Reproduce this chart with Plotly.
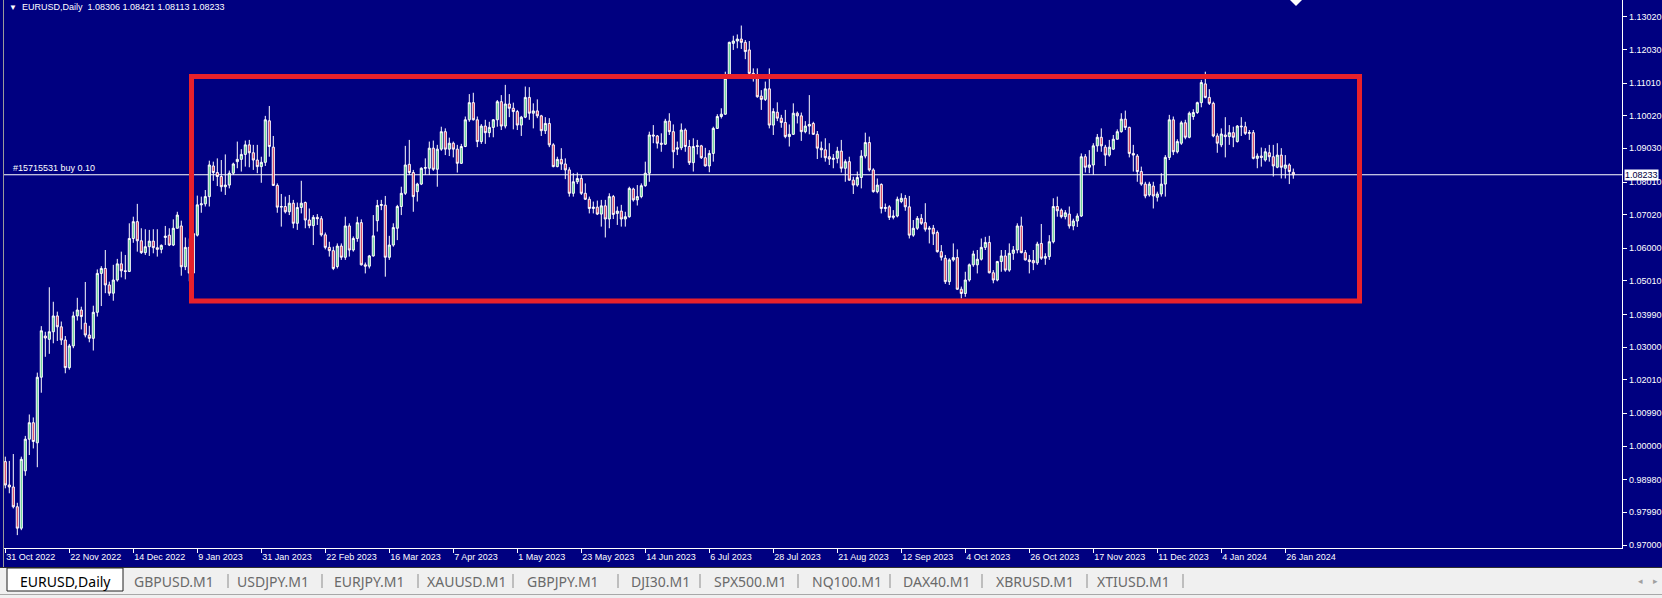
import pandas as pd
import plotly.graph_objects as go

# ---------------- data ----------------
holidays = ["2022-12-26", "2023-01-02", "2023-12-25", "2024-01-01"]
dates = [d.strftime("%Y-%m-%d") for d in pd.bdate_range("2022-10-31", "2024-01-30")
         if d.strftime("%Y-%m-%d") not in holidays]

opens = [
    0.9953, 0.9882, 0.9876, 0.9816, 0.9751, 0.9925, 1.0021, 1.0071, 1.0010, 1.0209,
    1.0334, 1.0324, 1.0347, 1.0395, 1.0362, 1.0322, 1.0238, 1.0304, 1.0395, 1.0413,
    1.0373, 1.0337, 1.0327, 1.0406, 1.0524, 1.0539, 1.0489, 1.0464, 1.0504, 1.0553,
    1.0532, 1.0530, 1.0630, 1.0681, 1.0623, 1.0587, 1.0605, 1.0622, 1.0602, 1.0597,
    1.0633, 1.0640, 1.0610, 1.0661, 1.0668, 1.0544, 1.0603, 1.0525, 1.0640, 1.0732,
    1.0735, 1.0757, 1.0850, 1.0830, 1.0818, 1.0787, 1.0792, 1.0828, 1.0863, 1.0870,
    1.0885, 1.0914, 1.0890, 1.0868, 1.0848, 1.0861, 1.0987, 1.0907, 1.0791, 1.0725,
    1.0727, 1.0711, 1.0737, 1.0676, 1.0724, 1.0739, 1.0686, 1.0669, 1.0694, 1.0690,
    1.0641, 1.0603, 1.0593, 1.0545, 1.0607, 1.0573, 1.0668, 1.0595, 1.0630, 1.0678,
    1.0550, 1.0546, 1.0577, 1.0684, 1.0730, 1.0731, 1.0573, 1.0610, 1.0661, 1.0727,
    1.0767, 1.0855, 1.0830, 1.0772, 1.0795, 1.0843, 1.0843, 1.0904, 1.0840, 1.0901,
    1.0954, 1.0901, 1.0919, 1.0901, 1.0858, 1.0909, 1.0990, 1.1042, 1.0990, 1.0924,
    1.0971, 1.0951, 1.0967, 1.0990, 1.1045, 1.0971, 1.1038, 1.1025, 1.1015, 1.0974,
    1.0998, 1.1058, 1.1010, 1.1017, 1.1002, 1.0957, 1.0979, 1.0914, 1.0848, 1.0870,
    1.0856, 1.0838, 1.0767, 1.0802, 1.0812, 1.0767, 1.0749, 1.0721, 1.0725, 1.0704,
    1.0729, 1.0689, 1.0757, 1.0706, 1.0713, 1.0689, 1.0696, 1.0780, 1.0747, 1.0757,
    1.0790, 1.0828, 1.0944, 1.0941, 1.0919, 1.0916, 1.0986, 1.0954, 1.0901, 1.0905,
    1.0959, 1.0909, 1.0860, 1.0909, 1.0911, 1.0875, 1.0850, 1.0888, 1.0964, 1.1000,
    1.1007, 1.1116, 1.1222, 1.1229, 1.1235, 1.1225, 1.1202, 1.1131, 1.1121, 1.1062,
    1.1052, 1.1084, 1.0974, 1.1013, 1.0995, 1.0982, 1.0939, 1.0946, 1.1010, 1.1002,
    1.0954, 1.0971, 1.0979, 1.0946, 1.0904, 1.0899, 1.0878, 1.0870, 1.0873, 1.0895,
    1.0843, 1.0863, 1.0807, 1.0792, 1.0815, 1.0880, 1.0921, 1.0838, 1.0772, 1.0794,
    1.0721, 1.0726, 1.0694, 1.0698, 1.0742, 1.0752, 1.0726, 1.0640, 1.0661, 1.0691,
    1.0678, 1.0658, 1.0661, 1.0648, 1.0590, 1.0570, 1.0499, 1.0565, 1.0572, 1.0476,
    1.0463, 1.0504, 1.0550, 1.0550, 1.0567, 1.0603, 1.0618, 1.0526, 1.0504, 1.0560,
    1.0577, 1.0534, 1.0585, 1.0595, 1.0668, 1.0587, 1.0565, 1.0563, 1.0556, 1.0615,
    1.0570, 1.0575, 1.0620, 1.0727, 1.0716, 1.0696, 1.0704, 1.0668, 1.0683, 1.0698,
    1.0878, 1.0846, 1.0853, 1.0911, 1.0937, 1.0907, 1.0883, 1.0901, 1.0931, 1.0954,
    1.0992, 1.0967, 1.0888, 1.0880, 1.0833, 1.0795, 1.0762, 1.0789, 1.0755, 1.0765,
    1.0795, 1.0876, 1.0990, 1.0893, 1.0919, 1.0981, 1.0937, 1.1000, 1.1012, 1.1042,
    1.1099, 1.1058, 1.1040, 1.0941, 1.0914, 1.0944, 1.0939, 1.0951, 1.0924, 1.0971,
    1.0969, 1.0949, 1.0951, 1.0873, 1.0880, 1.0868, 1.0890, 1.0878, 1.0846, 1.0883,
    1.0843, 1.0853, 1.08306,
]
highs = [
    0.9968, 0.9955, 0.9976, 0.9828, 0.9968, 1.0031, 1.0096, 1.0087, 1.0223, 1.0364,
    1.0347, 1.0482, 1.0438, 1.0408, 1.0378, 1.0334, 1.0310, 1.0408, 1.0450, 1.0423,
    1.0498, 1.0365, 1.0426, 1.0536, 1.0546, 1.0595, 1.0499, 1.0550, 1.0568, 1.0590,
    1.0580, 1.0676, 1.0696, 1.0735, 1.0661, 1.0658, 1.0656, 1.0658, 1.0658, 1.0612,
    1.0668, 1.0661, 1.0688, 1.0711, 1.0684, 1.0633, 1.0630, 1.0650, 1.0760, 1.0757,
    1.0777, 1.0866, 1.0863, 1.0873, 1.0868, 1.0885, 1.0836, 1.0860, 1.0924, 1.0901,
    1.0927, 1.0929, 1.0914, 1.0914, 1.0878, 1.1002, 1.1032, 1.0941, 1.0797, 1.0765,
    1.0757, 1.0762, 1.0747, 1.0739, 1.0805, 1.0742, 1.0721, 1.0701, 1.0704, 1.0698,
    1.0648, 1.0620, 1.0605, 1.0615, 1.0615, 1.0696, 1.0676, 1.0636, 1.0696, 1.0688,
    1.0557, 1.0580, 1.0701, 1.0747, 1.0747, 1.0759, 1.0638, 1.0676, 1.0732, 1.0787,
    1.0911, 1.0929, 1.0838, 1.0799, 1.0846, 1.0873, 1.0924, 1.0927, 1.0914, 1.0969,
    1.0964, 1.0936, 1.0924, 1.0914, 1.0917, 1.1000, 1.1068, 1.1072, 1.1000, 1.0977,
    1.0990, 1.0984, 1.0992, 1.1050, 1.1065, 1.1096, 1.1068, 1.1042, 1.1020, 1.1002,
    1.1091, 1.1089, 1.1040, 1.1052, 1.1005, 1.0998, 1.0995, 1.0919, 1.0878, 1.0904,
    1.0873, 1.0846, 1.0828, 1.0830, 1.0823, 1.0797, 1.0757, 1.0742, 1.0745, 1.0747,
    1.0747, 1.0767, 1.0762, 1.0727, 1.0732, 1.0711, 1.0787, 1.0784, 1.0792, 1.0797,
    1.0863, 1.0954, 1.0974, 1.0944, 1.0949, 1.0993, 1.1010, 1.0976, 1.0924, 1.0979,
    1.0964, 1.0929, 1.0934, 1.0929, 1.0914, 1.0905, 1.0898, 1.0969, 1.1007, 1.1025,
    1.1136, 1.1227, 1.1245, 1.1249, 1.1276, 1.1232, 1.1229, 1.1146, 1.1146, 1.1080,
    1.1106, 1.1146, 1.1025, 1.1043, 1.1005, 1.1020, 1.0976, 1.1040, 1.1015, 1.1012,
    1.0986, 1.1065, 1.0984, 1.0956, 1.0924, 1.0934, 1.0919, 1.0886, 1.0908, 1.0929,
    1.0870, 1.0878, 1.0817, 1.0833, 1.0898, 1.0951, 1.0939, 1.0843, 1.0812, 1.0797,
    1.0736, 1.0731, 1.0716, 1.0757, 1.0767, 1.0762, 1.0759, 1.0686, 1.0698, 1.0704,
    1.0737, 1.0668, 1.0671, 1.0654, 1.0610, 1.0580, 1.0570, 1.0615, 1.0597, 1.0484,
    1.0529, 1.0554, 1.0593, 1.0595, 1.0630, 1.0635, 1.0638, 1.0534, 1.0562, 1.0595,
    1.0595, 1.0615, 1.0607, 1.0676, 1.0696, 1.0595, 1.0580, 1.0595, 1.0620, 1.0674,
    1.0585, 1.0640, 1.0752, 1.0757, 1.0721, 1.0716, 1.0727, 1.0690, 1.0706, 1.0888,
    1.0886, 1.0898, 1.0919, 1.0947, 1.0964, 1.0914, 1.0929, 1.0944, 1.0961, 1.1010,
    1.1018, 1.0969, 1.0914, 1.0886, 1.0848, 1.0802, 1.0802, 1.0802, 1.0772, 1.0828,
    1.0883, 1.1005, 1.1000, 1.0931, 1.0987, 1.0990, 1.1015, 1.1022, 1.1045, 1.1111,
    1.1136, 1.1083, 1.1045, 1.0949, 1.0964, 1.0998, 1.0974, 1.0969, 1.0974, 1.0998,
    1.0984, 1.0959, 1.0959, 1.0888, 1.0906, 1.0904, 1.0914, 1.0914, 1.0919, 1.0904,
    1.0883, 1.0858, 1.08421,
]
lows = [
    0.9872, 0.9857, 0.9811, 0.9730, 0.9745, 0.9910, 0.9973, 0.9993, 0.9936, 1.0162,
    1.0271, 1.0280, 1.0312, 1.0319, 1.0307, 1.0221, 1.0232, 1.0297, 1.0381, 1.0354,
    1.0330, 1.0315, 1.0290, 1.0393, 1.0425, 1.0464, 1.0456, 1.0441, 1.0499, 1.0512,
    1.0506, 1.0528, 1.0617, 1.0590, 1.0583, 1.0580, 1.0577, 1.0585, 1.0575, 1.0585,
    1.0610, 1.0607, 1.0607, 1.0661, 1.0517, 1.0534, 1.0500, 1.0515, 1.0636, 1.0708,
    1.0727, 1.0727, 1.0805, 1.0789, 1.0772, 1.0762, 1.0782, 1.0823, 1.0843, 1.0833,
    1.0848, 1.0846, 1.0838, 1.0828, 1.0799, 1.0850, 1.0878, 1.0789, 1.0708, 1.0666,
    1.0706, 1.0701, 1.0661, 1.0656, 1.0706, 1.0661, 1.0661, 1.0610, 1.0671, 1.0636,
    1.0597, 1.0575, 1.0534, 1.0539, 1.0565, 1.0565, 1.0575, 1.0590, 1.0620, 1.0548,
    1.0524, 1.0539, 1.0575, 1.0651, 1.0716, 1.0514, 1.0565, 1.0605, 1.0625, 1.0701,
    1.0762, 1.0823, 1.0711, 1.0742, 1.0792, 1.0823, 1.0823, 1.0835, 1.0787, 1.0896,
    1.0883, 1.0880, 1.0876, 1.0830, 1.0856, 1.0907, 1.0984, 1.0988, 1.0907, 1.0917,
    1.0917, 1.0937, 1.0937, 1.0969, 1.0959, 1.0964, 1.0998, 1.0961, 1.0959, 1.0941,
    1.0995, 1.0990, 1.0964, 1.0995, 1.0941, 1.0947, 1.0907, 1.0846, 1.0846, 1.0838,
    1.0810, 1.0757, 1.0757, 1.0795, 1.0762, 1.0747, 1.0706, 1.0706, 1.0701, 1.0666,
    1.0633, 1.0661, 1.0689, 1.0671, 1.0666, 1.0666, 1.0693, 1.0742, 1.0730, 1.0752,
    1.0787, 1.0802, 1.0919, 1.0903, 1.0893, 1.0914, 1.0944, 1.0843, 1.0883, 1.0898,
    1.0893, 1.0853, 1.0833, 1.0885, 1.0871, 1.0848, 1.0831, 1.0863, 1.0962, 1.0994,
    1.1005, 1.1114, 1.1202, 1.1207, 1.1205, 1.1174, 1.1126, 1.1106, 1.1057, 1.1020,
    1.1047, 1.0964, 1.0944, 1.0986, 1.0966, 1.0934, 1.0909, 1.0944, 1.0979, 1.0926,
    1.0949, 1.0946, 1.0944, 1.0871, 1.0875, 1.0863, 1.0853, 1.0843, 1.0858, 1.0830,
    1.0802, 1.0805, 1.0765, 1.0787, 1.0782, 1.0873, 1.0833, 1.0769, 1.0767, 1.0706,
    1.0711, 1.0686, 1.0688, 1.0694, 1.0737, 1.0714, 1.0630, 1.0635, 1.0656, 1.0671,
    1.0651, 1.0615, 1.0610, 1.0587, 1.0563, 1.0492, 1.0489, 1.0560, 1.0474, 1.0448,
    1.0453, 1.0499, 1.0544, 1.0524, 1.0563, 1.0595, 1.0524, 1.0494, 1.0500, 1.0529,
    1.0529, 1.0529, 1.0565, 1.0585, 1.0585, 1.0563, 1.0524, 1.0534, 1.0550, 1.0565,
    1.0550, 1.0565, 1.0615, 1.0696, 1.0691, 1.0688, 1.0660, 1.0655, 1.0665, 1.0695,
    1.0830, 1.0828, 1.0823, 1.0893, 1.0893, 1.0850, 1.0878, 1.0899, 1.0931, 1.0951,
    1.0959, 1.0876, 1.0833, 1.0802, 1.0790, 1.0752, 1.0757, 1.0721, 1.0742, 1.0757,
    1.0757, 1.0868, 1.0883, 1.0888, 1.0914, 1.0931, 1.0934, 1.0990, 1.1008, 1.1028,
    1.1055, 1.1035, 1.0937, 1.0890, 1.0907, 1.0876, 1.0914, 1.0907, 1.0921, 1.0941,
    1.0944, 1.0929, 1.0870, 1.0843, 1.0848, 1.0863, 1.0863, 1.0818, 1.0843, 1.0812,
    1.0812, 1.0795, 1.08113,
]
closes = [
    0.9882, 0.9876, 0.9816, 0.9751, 0.9960, 1.0021, 1.0071, 1.0014, 1.0209, 1.0350,
    1.0328, 1.0347, 1.0395, 1.0362, 1.0322, 1.0238, 1.0304, 1.0395, 1.0413, 1.0393,
    1.0337, 1.0327, 1.0406, 1.0524, 1.0539, 1.0489, 1.0464, 1.0504, 1.0553, 1.0532,
    1.0530, 1.0630, 1.0681, 1.0623, 1.0587, 1.0605, 1.0622, 1.0602, 1.0597, 1.0609,
    1.0637, 1.0610, 1.0661, 1.0701, 1.0544, 1.0603, 1.0525, 1.0645, 1.0732, 1.0735,
    1.0757, 1.0853, 1.0830, 1.0818, 1.0787, 1.0792, 1.0828, 1.0856, 1.0870, 1.0885,
    1.0914, 1.0890, 1.0868, 1.0848, 1.0861, 1.0990, 1.0909, 1.0791, 1.0725, 1.0727,
    1.0711, 1.0737, 1.0676, 1.0724, 1.0737, 1.0686, 1.0669, 1.0694, 1.0690, 1.0641,
    1.0603, 1.0593, 1.0539, 1.0607, 1.0573, 1.0668, 1.0595, 1.0630, 1.0678, 1.0550,
    1.0546, 1.0577, 1.0638, 1.0730, 1.0733, 1.0573, 1.0610, 1.0663, 1.0727, 1.0767,
    1.0853, 1.0830, 1.0757, 1.0795, 1.0843, 1.0845, 1.0904, 1.0840, 1.0901, 1.0954,
    1.0901, 1.0919, 1.0901, 1.0858, 1.0909, 1.0990, 1.1042, 1.0990, 1.0924, 1.0971,
    1.0951, 1.0967, 1.0990, 1.1045, 1.0971, 1.1038, 1.1025, 1.1015, 1.0974, 1.0998,
    1.1058, 1.1010, 1.1017, 1.1002, 1.0957, 1.0979, 1.0914, 1.0848, 1.0870, 1.0856,
    1.0838, 1.0767, 1.0802, 1.0812, 1.0767, 1.0749, 1.0721, 1.0725, 1.0704, 1.0729,
    1.0689, 1.0757, 1.0703, 1.0713, 1.0689, 1.0696, 1.0782, 1.0747, 1.0757, 1.0790,
    1.0828, 1.0944, 1.0941, 1.0919, 1.0916, 1.0986, 1.0954, 1.0893, 1.0905, 1.0959,
    1.0909, 1.0860, 1.0909, 1.0911, 1.0875, 1.0850, 1.0888, 1.0964, 1.1000, 1.1007,
    1.1116, 1.1225, 1.1229, 1.1235, 1.1225, 1.1197, 1.1131, 1.1121, 1.1060, 1.1052,
    1.1084, 1.0974, 1.1015, 1.0995, 1.0982, 1.0939, 1.0946, 1.1010, 1.1002, 1.0954,
    1.0971, 1.0976, 1.0946, 1.0904, 1.0899, 1.0875, 1.0871, 1.0873, 1.0895, 1.0843,
    1.0863, 1.0807, 1.0792, 1.0815, 1.0880, 1.0921, 1.0838, 1.0772, 1.0792, 1.0721,
    1.0724, 1.0694, 1.0698, 1.0749, 1.0752, 1.0726, 1.0640, 1.0661, 1.0691, 1.0676,
    1.0658, 1.0661, 1.0644, 1.0590, 1.0573, 1.0499, 1.0565, 1.0572, 1.0476, 1.0463,
    1.0504, 1.0550, 1.0583, 1.0567, 1.0603, 1.0618, 1.0526, 1.0504, 1.0560, 1.0577,
    1.0534, 1.0585, 1.0595, 1.0668, 1.0587, 1.0565, 1.0560, 1.0556, 1.0613, 1.0570,
    1.0575, 1.0620, 1.0727, 1.0714, 1.0696, 1.0708, 1.0668, 1.0683, 1.0698, 1.0878,
    1.0846, 1.0853, 1.0911, 1.0937, 1.0911, 1.0883, 1.0907, 1.0931, 1.0954, 1.0992,
    1.0967, 1.0888, 1.0883, 1.0833, 1.0795, 1.0759, 1.0795, 1.0759, 1.0765, 1.0795,
    1.0876, 1.0990, 1.0893, 1.0924, 1.0981, 1.0937, 1.1010, 1.1012, 1.1042, 1.1103,
    1.1058, 1.1040, 1.0941, 1.0919, 1.0947, 1.0939, 1.0951, 1.0937, 1.0971, 1.0969,
    1.0949, 1.0951, 1.0873, 1.0880, 1.0876, 1.0893, 1.0878, 1.0850, 1.0883, 1.0846,
    1.0853, 1.0833, 1.08233,
]

x_tick_labels = ["31 Oct 2022", "22 Nov 2022", "14 Dec 2022", "9 Jan 2023", "31 Jan 2023",
                 "22 Feb 2023", "16 Mar 2023", "7 Apr 2023", "1 May 2023", "23 May 2023",
                 "14 Jun 2023", "6 Jul 2023", "28 Jul 2023", "21 Aug 2023", "12 Sep 2023",
                 "4 Oct 2023", "26 Oct 2023", "17 Nov 2023", "11 Dec 2023", "4 Jan 2024",
                 "26 Jan 2024"]
y_tick_values = [1.13020, 1.12030, 1.11010, 1.10020, 1.09030, 1.08010, 1.07020, 1.06000,
                 1.05010, 1.03990, 1.03000, 1.02010, 1.00990, 1.00000, 0.98980, 0.97990,
                 0.97000]
y_tick_labels = ["1.13020", "1.12030", "1.11010", "1.10020", "1.09030", "1.08010", "1.07020",
                 "1.06000", "1.05010", "1.03990", "1.03000", "1.02010", "1.00990", "1.00000",
                 "0.98980", "0.97990", "0.97000"]

title_text = "EURUSD,Daily\u00a0\u00a01.08306 1.08421 1.08113 1.08233"
order_text = "#15715531 buy 0.10"
bid_price = 1.08233
bid_label = "1.08233"
box_price_top, box_price_bottom = 1.11214, 1.04403
box_bar_left, box_bar_right = 46.55, 338.55

tabs = ["EURUSD,Daily", "GBPUSD.M1", "USDJPY.M1", "EURJPY.M1", "XAUUSD.M1", "GBPJPY.M1",
        "DJI30.M1", "SPX500.M1", "NQ100.M1", "DAX40.M1", "XBRUSD.M1", "XTIUSD.M1"]
tab_centers = [65, 174, 273, 369, 466, 563, 660, 750, 847, 937, 1035, 1133]
tab_separators = [228, 322, 418, 513, 618, 700, 798, 890, 982, 1087, 1183]

# ---------------- style ----------------
W, H = 1662, 598
PL, PR, PT, PB = 4, 1622, 0, 548
NAVY = "#000080"
BULL = "#5ccf8a"
BEAR = "#d0344f"
FONT = "Liberation Sans"


def px(x):
    return (x - PL) / (PR - PL)


def py(y):
    return (PB - y) / (PB - PT)


fig = go.Figure(go.Candlestick(
    x=dates, open=opens, high=highs, low=lows, close=closes,
    increasing=dict(line=dict(color="white", width=1), fillcolor=BULL),
    decreasing=dict(line=dict(color="white", width=1), fillcolor=BEAR),
    whiskerwidth=0, hoverinfo="skip", showlegend=False,
))

shapes = []
shapes.append(dict(type="line", xref="paper", yref="y", x0=0, x1=1, y0=bid_price, y1=bid_price,
                   line=dict(color="white", width=1), layer="below"))
shapes.append(dict(type="rect", xref="x", yref="y", x0=box_bar_left, x1=box_bar_right,
                   y0=box_price_bottom, y1=box_price_top,
                   line=dict(color="#e8212b", width=5), fillcolor="rgba(0,0,0,0)"))
shapes.append(dict(type="line", xref="paper", yref="paper", x0=px(3.5), x1=px(3.5),
                   y0=py(0), y1=py(567), line=dict(color="#9a9a9a", width=1)))
shapes.append(dict(type="path", xref="paper", yref="paper",
                   path="M %f %f L %f %f L %f %f Z" % (px(1290), py(0), px(1302), py(0), px(1296), py(6)),
                   fillcolor="white", line=dict(color="white", width=0)))
shapes.append(dict(type="rect", xref="paper", yref="paper", x0=px(0), x1=px(W), y0=py(H), y1=py(567.5),
                   fillcolor="#f0f0f0", line=dict(width=0)))
shapes.append(dict(type="line", xref="paper", yref="paper", x0=px(0), x1=px(W), y0=py(567.5), y1=py(567.5),
                   line=dict(color="#303030", width=1)))
shapes.append(dict(type="line", xref="paper", yref="paper", x0=px(0), x1=px(W), y0=py(594.5), y1=py(594.5),
                   line=dict(color="#a8a8a8", width=1)))
shapes.append(dict(type="rect", xref="paper", yref="paper", x0=px(7), x1=px(123), y0=py(591), y1=py(568),
                   fillcolor="white", line=dict(color="#202020", width=1)))
for sx in tab_separators:
    shapes.append(dict(type="line", xref="paper", yref="paper", x0=px(sx), x1=px(sx),
                       y0=py(574), y1=py(588), line=dict(color="#8c8c8c", width=1)))

annotations = []


def ann(text, x, y, size=9, color="white", xanchor="left", family=FONT, **kw):
    annotations.append(dict(text=text, xref="paper", yref="paper", x=px(x), y=py(y),
                            xanchor=xanchor, yanchor="middle", showarrow=False,
                            font=dict(family=family, size=size, color=color), **kw))


ann("\u25bc", 7, 7, size=8)
ann(title_text, 20, 7)
ann(order_text, 11, 168)
# price-axis labels
for v, t in zip(y_tick_values, y_tick_labels):
    annotations.append(dict(text=t, xref="paper", yref="y", x=1, y=v, xanchor="left", yanchor="middle",
                            xshift=5, showarrow=False, font=dict(family=FONT, size=9, color="white")))
# current price box
annotations.append(dict(text=bid_label, xref="paper", yref="y", x=1, y=bid_price,
                        xanchor="left", yanchor="middle", xshift=2, showarrow=False,
                        bgcolor="white", borderpad=0,
                        font=dict(family=FONT, size=9, color="#000040")))
for i, (t, cx) in enumerate(zip(tabs, tab_centers)):
    ann(t, cx, 581, size=14, color="#000000" if i == 0 else "#6a6a6a", xanchor="center", family="Noto Sans")
ann("\u25c2", 1641, 581, size=9, color="#a0a0a0", xanchor="center")
ann("\u25b8", 1656, 581, size=9, color="#a0a0a0", xanchor="center")

fig.update_layout(
    width=W, height=H,
    margin=dict(l=PL, r=W - PR, t=PT, b=H - PB),
    paper_bgcolor=NAVY, plot_bgcolor=NAVY,
    boxgap=0.25,
    showlegend=False,
    shapes=shapes, annotations=annotations,
    xaxis=dict(
        type="category", range=[-0.325, 404.175], rangeslider=dict(visible=False),
        showgrid=False, zeroline=False,
        tickvals=[dates[i] for i in range(0, len(dates), 16)], ticktext=x_tick_labels,
        ticks="outside", ticklen=4, tickcolor="white", tickwidth=1,
        ticklabelposition="outside right",
        tickfont=dict(family=FONT, size=9, color="white"),
        showline=True, linecolor="white", linewidth=1,
    ),
    yaxis=dict(
        side="right", range=[0.96909, 1.13535],
        showgrid=False, zeroline=False,
        tickvals=y_tick_values, showticklabels=False,
        ticks="outside", ticklen=4, tickcolor="white", tickwidth=1,
        showline=True, linecolor="white", linewidth=1,
    ),
)

fig.write_html("out.html", config={"displayModeBar": False},
               post_script="document.body.style.margin='0';document.body.style.overflow='hidden';")
